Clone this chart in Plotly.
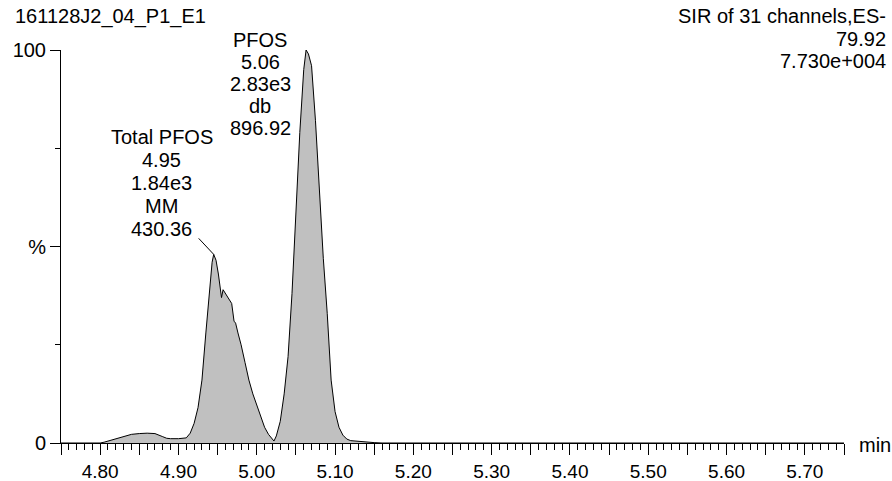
import numpy as np
import plotly.graph_objects as go

# ---- data ----
time_min = [4.75, 4.80, 4.805, 4.81, 4.82, 4.83, 4.84, 4.85, 4.86, 4.87, 4.875, 4.88,
            4.885, 4.89, 4.90, 4.91, 4.915, 4.92, 4.925, 4.93, 4.935, 4.94, 4.943,
            4.945, 4.948, 4.951, 4.953, 4.955, 4.957, 4.959, 4.962, 4.965, 4.968,
            4.971, 4.973, 4.976, 4.98, 4.985, 4.99, 4.995, 5.00, 5.005, 5.01, 5.015,
            5.02, 5.022, 5.025, 5.03, 5.035, 5.04, 5.045, 5.05, 5.055, 5.06, 5.063,
            5.066, 5.07, 5.075, 5.08, 5.085, 5.09, 5.095, 5.10, 5.105, 5.11, 5.115,
            5.12, 5.13, 5.14, 5.15, 5.16, 5.75]
intensity_pct = [0, 0, 0.2, 0.5, 1.2, 1.8, 2.2, 2.4, 2.5, 2.4, 2.1, 1.6,
                 1.2, 1.1, 1.1, 1.3, 2.5, 5.0, 9.0, 16, 28, 40, 46,
                 48, 46.5, 43, 39.5, 37.0, 39, 38.3, 37.5, 36.5, 35.5,
                 31, 30.5, 28, 25, 20.5, 16, 12.5, 9.5, 6.5, 4.0, 2.2,
                 1.0, 0.5, 1.8, 5.5, 12.5, 22, 38, 59, 79, 95, 100,
                 99, 96, 82, 64, 47, 33, 16, 8, 4.0, 2.0, 1.0,
                 0.6, 0.4, 0.3, 0.1, 0, 0]

peak_windows = [(4.90, 5.02), (5.02, 5.12)]
peak_labels = [["Total PFOS", "4.95", "1.84e3", "MM", "430.36"],
               ["PFOS", "5.06", "2.83e3", "db", "896.92"]]

x_tick_labels = ["4.80", "4.90", "5.00", "5.10", "5.20", "5.30", "5.40",
                 "5.50", "5.60", "5.70"]
y_tick_labels = ["0", "%", "100"]
y_tick_values = [0, 50, 100]

title_left = "161128J2_04_P1_E1"
title_right = ["SIR of 31 channels,ES-", "79.92", "7.730e+004"]
x_unit = "min"

# ---- styling ----
FONT = "Liberation Sans, Arial, Helvetica, sans-serif"
FS = 20
TFS = 19
BLACK = "#000000"

x_range = [4.75, 5.75]
major_x = np.round(np.arange(4.75, 5.7501, 0.05), 2)
major_x_text = [f"{v:.2f}" if f"{v:.2f}" in x_tick_labels else "" for v in major_x]
minor_x = [v for v in np.round(np.arange(4.75, 5.7501, 0.01), 2) if v not in set(major_x)]

fig = go.Figure()
fig.add_trace(go.Scatter(
    x=time_min, y=intensity_pct, mode="lines",
    line=dict(color=BLACK, width=1), fill="tozeroy", fillcolor="#c0c0c0",
    cliponaxis=False, hoverinfo="skip"))

# peak annotations anchored on the data peaks
t_arr = np.array(time_min)
i_arr = np.array(intensity_pct)
text_offsets = [dict(dx=-52, dys=[117, 94, 71, 48, 25], lead=(-15, 16)),
                dict(dx=-46, dys=[10, -12, -34, -56, -78], lead=None)]
for (lo, hi), labels, off in zip(peak_windows, peak_labels, text_offsets):
    mask = (t_arr >= lo) & (t_arr <= hi)
    idx = np.argmax(np.where(mask, i_arr, -1))
    pt, py = float(t_arr[idx]), float(i_arr[idx])
    for lab, dy in zip(labels, off["dys"]):
        fig.add_annotation(x=pt, y=py, xref="x", yref="y", text=lab, showarrow=False,
                           xanchor="center", yanchor="middle", xshift=off["dx"], yshift=dy,
                           font=dict(family=FONT, size=FS, color=BLACK))
    if off["lead"] is not None:
        fig.add_shape(type="line", xref="x", yref="y", xsizemode="pixel", ysizemode="pixel",
                      xanchor=pt, yanchor=py, x0=0, y0=0, x1=off["lead"][0], y1=off["lead"][1],
                      line=dict(color=BLACK, width=1))
    else:
        fig.add_shape(type="line", xref="x", yref="y", xsizemode="pixel", ysizemode="pixel",
                      xanchor=pt, yanchor=py, x0=-14, y0=1, x1=-1, y1=1,
                      line=dict(color=BLACK, width=1))

# headers
fig.add_annotation(x=(13 - 61) / 783, y=(443 - 17) / 393, xref="paper", yref="paper",
                   text=title_left, showarrow=False, xanchor="left", yanchor="middle",
                   font=dict(family=FONT, size=FS, color=BLACK))
for txt, py in zip(title_right, [16, 39, 61]):
    fig.add_annotation(x=(888 - 61) / 783, y=(443 - py) / 393, xref="paper", yref="paper",
                       text=txt, showarrow=False, xanchor="right", yanchor="middle",
                       font=dict(family=FONT, size=FS, color=BLACK))
fig.add_annotation(x=(857 - 61) / 783, y=(443 - 445) / 393, xref="paper", yref="paper",
                   text=x_unit, showarrow=False, xanchor="left", yanchor="middle",
                   font=dict(family=FONT, size=FS, color=BLACK))

fig.update_layout(
    width=892, height=481,
    margin=dict(l=61, r=48, t=50, b=38, autoexpand=False),
    paper_bgcolor="white", plot_bgcolor="white",
    showlegend=False,
    font=dict(family=FONT, size=FS, color=BLACK),
    xaxis=dict(range=x_range, showline=True, linecolor=BLACK, linewidth=1,
               showgrid=False, zeroline=False, ticks="outside", ticklen=11,
               tickwidth=1, tickcolor=BLACK, tickmode="array", tickvals=list(major_x),
               ticktext=major_x_text, tickfont=dict(family=FONT, size=TFS, color=BLACK),
               automargin=False,
               minor=dict(tickmode="array", tickvals=minor_x, ticks="outside",
                          ticklen=6, tickwidth=1, tickcolor=BLACK, showgrid=False)),
    yaxis=dict(range=[0, 100], showline=True, linecolor=BLACK, linewidth=1,
               showgrid=False, zeroline=False, ticks="outside", ticklen=10,
               tickwidth=1, tickcolor=BLACK, tickmode="array", tickvals=y_tick_values,
               ticktext=y_tick_labels, tickfont=dict(family=FONT, size=FS, color=BLACK),
               automargin=False,
               minor=dict(tickmode="array", tickvals=[25, 75], ticks="outside",
                          ticklen=5, tickwidth=1, tickcolor=BLACK, showgrid=False)),
)

fig.write_html("out.html")
